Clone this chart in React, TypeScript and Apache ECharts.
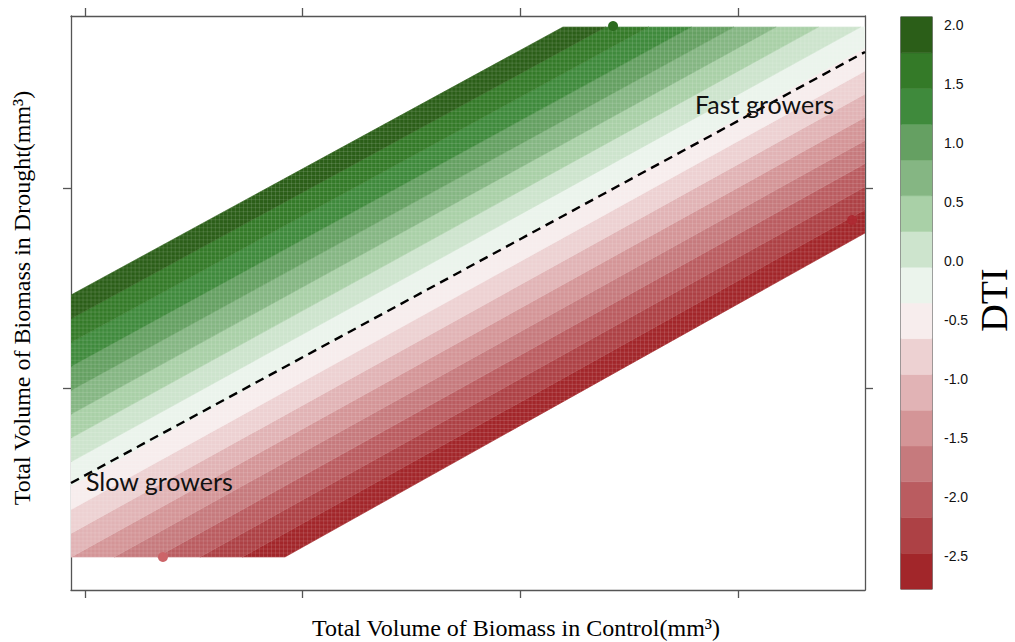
import React, { useEffect, useRef } from "react";
import * as echarts from "echarts";

// ---- axes (tick positions only; the reference shows no tick labels) ----
const xTicks = [1, 2, 3, 4];
const yTicks = [2, 3];
const xRange = [0.9357, 4.5834];
const yRange = [0.99, 3.86];

// vertical extent of the gridded surface
const surfaceTop = 3.805;
const surfaceBottom = 1.155;

// DTI level breaks (16 levels, bottom -> top)
const dtiBreaks = [
  -2.78, -2.477, -2.174, -1.871, -1.568, -1.265, -0.962, -0.659, -0.356,
  -0.053, 0.25, 0.553, 0.856, 1.159, 1.462, 1.765, 2.068,
];
const levelColors = [
  "#a2262a", "#ad4145", "#ba5c60", "#c67a7d", "#d49597", "#e1b3b5",
  "#edd1d2", "#f7eded", "#ebf4ec", "#cde4cd", "#a9d0a7", "#85b683",
  "#65a062", "#3f8a3c", "#347a28", "#2b5e18",
];
// each break's contour line: drought value at the left edge and at the right edge
const breakLineLeft = [
  0.5575, 0.677, 0.796, 0.916, 1.035, 1.154, 1.273, 1.392, 1.511, 1.631,
  1.75, 1.869, 1.988, 2.108, 2.227, 2.346, 2.465,
];
const breakLineRight = [
  2.775, 2.891, 3.006, 3.122, 3.238, 3.354, 3.47, 3.585, 3.701, 3.817,
  3.933, 4.049, 4.164, 4.28, 4.396, 4.512, 4.6275,
];

// dashed reference line
const dashedLine = [
  [0.9357, 1.525],
  [4.5834, 3.68],
];

// observed points
const pointX = [3.426, 1.358, 4.524];
const pointY = [3.81, 1.155, 2.84];
const pointColor = ["#2b6a1e", "#cc6468", "#ad2a32"];

const colorbarTicks = [-2.5, -2.0, -1.5, -1.0, -0.5, 0.0, 0.5, 1.0, 1.5, 2.0];

// raster cell counts of the level plot (for the faint cell texture)
const rasterCols = 198;
const rasterRows = 132;

type P = [number, number];

function clipHalf(poly: P[], f: (p: P) => number): P[] {
  const out: P[] = [];
  const n = poly.length;
  for (let i = 0; i < n; i++) {
    const cur = poly[i];
    const prev = poly[(i + n - 1) % n];
    const fc = f(cur);
    const fp = f(prev);
    const inter = (): P => {
      const t = fp / (fp - fc);
      return [prev[0] + t * (cur[0] - prev[0]), prev[1] + t * (cur[1] - prev[1])];
    };
    if (fc >= 0) {
      if (fp < 0) out.push(inter());
      out.push(cur);
    } else if (fp >= 0) {
      out.push(inter());
    }
  }
  return out;
}

function lineAt(i: number, x: number) {
  const t = (x - xRange[0]) / (xRange[1] - xRange[0]);
  return breakLineLeft[i] + t * (breakLineRight[i] - breakLineLeft[i]);
}
function lineXAt(i: number, y: number) {
  const t = (y - breakLineLeft[i]) / (breakLineRight[i] - breakLineLeft[i]);
  return xRange[0] + t * (xRange[1] - xRange[0]);
}

const frameColor = "#555555";
const lastBreak = dtiBreaks.length - 1;

export default function App() {
  const ref = useRef<HTMLDivElement>(null);
  useEffect(() => {
    if (!ref.current) return;
    const chart = echarts.init(ref.current, null, { renderer: "svg" });
    const levels = levelColors.map((_, i) => i);
    const textureIdx = Array.from({ length: rasterCols + 1 + rasterRows + 1 }, (_, i) => i);

    const axisCommon = {
      type: "value" as const,
      axisLine: { show: true, onZero: false, lineStyle: { color: frameColor, width: 1.3 } },
      axisLabel: { show: false },
      splitLine: { show: false },
    };
    const tickStyle = { color: frameColor, width: 1.3 };

    const option: any = {
      animation: false,
      backgroundColor: "#ffffff",
      grid: [
        { left: 71, top: 16, width: 794, height: 574 },
        { left: 901, top: 17, width: 31, height: 572, show: true, borderColor: "#333", borderWidth: 1.2 },
      ],
      xAxis: [
        {
          ...axisCommon, gridIndex: 0, position: "bottom", min: xRange[0], max: xRange[1],
          axisTick: { show: true, customValues: xTicks, length: 8, lineStyle: tickStyle },
          axisLabel: { show: false, customValues: xTicks },
        },
        {
          ...axisCommon, gridIndex: 0, position: "top", min: xRange[0], max: xRange[1],
          axisTick: { show: true, customValues: xTicks, length: 8, lineStyle: tickStyle },
          axisLabel: { show: false, customValues: xTicks },
        },
        { type: "value", gridIndex: 1, min: 0, max: 1, show: false },
      ],
      yAxis: [
        {
          ...axisCommon, gridIndex: 0, position: "left", min: yRange[0], max: yRange[1],
          axisTick: { show: true, customValues: yTicks, length: 8, lineStyle: tickStyle },
          axisLabel: { show: false, customValues: yTicks },
        },
        {
          ...axisCommon, gridIndex: 0, position: "right", min: yRange[0], max: yRange[1],
          axisTick: { show: true, customValues: yTicks, length: 8, lineStyle: tickStyle },
          axisLabel: { show: false, customValues: yTicks },
        },
        {
          type: "value", gridIndex: 1, position: "right",
          min: dtiBreaks[0], max: dtiBreaks[lastBreak],
          axisLine: { show: false },
          splitLine: { show: false },
          axisTick: { show: true, customValues: colorbarTicks, length: 7, lineStyle: { color: "#333", width: 1 } },
          axisLabel: {
            show: true, customValues: colorbarTicks, margin: 12, color: "#111",
            fontFamily: "Liberation Sans", fontSize: 14,
            formatter: (v: number) => v.toFixed(1),
          },
        },
      ],
      series: [
        {
          type: "custom",
          xAxisIndex: 0,
          yAxisIndex: 0,
          data: levels,
          clip: true,
          z: 1,
          renderItem: (params: any, api: any) => {
            const i = params.dataIndex;
            let poly: P[] = [
              [xRange[0], surfaceBottom],
              [xRange[1], surfaceBottom],
              [xRange[1], surfaceTop],
              [xRange[0], surfaceTop],
            ];
            poly = clipHalf(poly, (p) => p[1] - lineAt(i, p[0]));
            if (poly.length) poly = clipHalf(poly, (p) => lineAt(i + 1, p[0]) - p[1]);
            if (poly.length < 3) return null;
            const pts = poly.map((p) => api.coord(p));
            return {
              type: "polygon",
              shape: { points: pts },
              style: { fill: levelColors[i], stroke: levelColors[i], lineWidth: 0.6 },
            };
          },
        },
        {
          // faint raster-cell texture of the level plot
          type: "custom",
          xAxisIndex: 0,
          yAxisIndex: 0,
          data: textureIdx,
          clip: true,
          silent: true,
          z: 2,
          renderItem: (params: any, api: any) => {
            const i = params.dataIndex;
            let a: P, b: P;
            if (i <= rasterCols) {
              const x = xRange[0] + (i * (xRange[1] - xRange[0])) / rasterCols;
              const lo = Math.max(surfaceBottom, lineAt(0, x));
              const hi = Math.min(surfaceTop, lineAt(lastBreak, x));
              if (hi <= lo) return null;
              a = [x, lo];
              b = [x, hi];
            } else {
              const j = i - rasterCols - 1;
              const y = surfaceBottom + (j * (surfaceTop - surfaceBottom)) / rasterRows;
              const l = Math.max(xRange[0], lineXAt(lastBreak, y));
              const r = Math.min(xRange[1], lineXAt(0, y));
              if (r <= l) return null;
              a = [l, y];
              b = [r, y];
            }
            const pa = api.coord(a);
            const pb = api.coord(b);
            return {
              type: "line",
              shape: { x1: pa[0], y1: pa[1], x2: pb[0], y2: pb[1] },
              style: { stroke: "rgba(255,255,255,0.16)", lineWidth: 0.8 },
            };
          },
        },
        {
          type: "scatter",
          xAxisIndex: 0,
          yAxisIndex: 0,
          symbolSize: 10,
          data: pointX.map((x, i) => ({ value: [x, pointY[i]], itemStyle: { color: pointColor[i], opacity: 1 } })),
          z: 3,
        },
        {
          type: "line",
          xAxisIndex: 0,
          yAxisIndex: 0,
          data: dashedLine,
          symbol: "none",
          lineStyle: { color: "#000", width: 2.4, type: [9, 6] },
          z: 4,
        },
        {
          type: "custom",
          xAxisIndex: 2,
          yAxisIndex: 2,
          data: levels,
          renderItem: (params: any, api: any) => {
            const i = params.dataIndex;
            const a = api.coord([0, dtiBreaks[i + 1]]);
            const b = api.coord([1, dtiBreaks[i]]);
            return {
              type: "rect",
              shape: { x: a[0], y: a[1], width: b[0] - a[0], height: b[1] - a[1] },
              style: { fill: levelColors[i], stroke: levelColors[i], lineWidth: 0.5 },
            };
          },
        },
      ],
      graphic: [
        {
          type: "text", x: 516, y: 628,
          style: {
            text: "Total Volume of Biomass in Control(mm³)", fill: "#000",
            font: '24px "Liberation Serif"', textAlign: "center", textVerticalAlign: "middle",
          },
        },
        {
          type: "text", x: 22, y: 298, rotation: Math.PI / 2,
          style: {
            text: "Total Volume of Biomass in Drought(mm³)", fill: "#000",
            font: '24px "Liberation Serif"', textAlign: "center", textVerticalAlign: "middle",
          },
        },
        {
          type: "text", x: 994, y: 300, rotation: Math.PI / 2,
          style: {
            text: "DTI", fill: "#000",
            font: '38px "Liberation Serif"', textAlign: "center", textVerticalAlign: "middle",
          },
        },
        {
          type: "text", x: 86, y: 481, z: 10,
          style: {
            text: "Slow growers", fill: "#111",
            font: '25px "Lato"', textAlign: "left", textVerticalAlign: "middle",
          },
        },
        {
          type: "text", x: 695, y: 104, z: 10,
          style: {
            text: "Fast growers", fill: "#111",
            font: '25px "Lato"', textAlign: "left", textVerticalAlign: "middle",
          },
        },
      ],
    };
    chart.setOption(option);
    return () => chart.dispose();
  }, []);
  return (
    <div
      ref={ref}
      style={{ position: "fixed", left: 0, top: 0, width: 1015, height: 642, background: "#fff" }}
    />
  );
}
